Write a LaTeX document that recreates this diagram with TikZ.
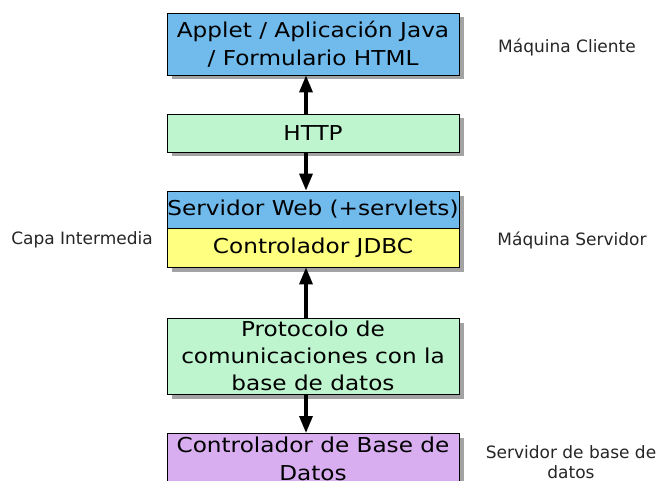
\documentclass[tikz,border=0pt]{standalone}
\usepackage{fontspec}
\setmainfont{DejaVu Sans}
\newfontfamily\boxfont[FakeStretch=1.13]{DejaVu Sans}
\usetikzlibrary{arrows.meta,shadows}
\definecolor{cblue}{RGB}{112,186,236}
\definecolor{cgreen}{RGB}{190,244,206}
\definecolor{cyellow}{RGB}{255,255,128}
\definecolor{cpurple}{RGB}{216,174,240}
\tikzset{
  box/.style={draw=black, line width=0.8pt, minimum width=292pt, inner sep=0pt, align=center,
    font=\boxfont\fontsize{20.5}{28}\selectfont,
    drop shadow={shadow xshift=4.5pt, shadow yshift=-4.5pt, fill=black!40, opacity=0.9}},
  side/.style={font=\fontsize{17}{20}\selectfont, text=black!85, align=center},
  arr/.style={line width=3.3pt, -{Triangle[width=13pt,length=17pt]}}
}
\begin{document}
\begin{tikzpicture}[x=1pt,y=-1pt]
\useasboundingbox (0,0) rectangle (658,481);
\clip (0,0) rectangle (658,481);
\fill[white] (0,0) rectangle (658,481);
\node[box, fill=cblue, minimum height=62pt] (app) at (313,44) {Applet / Aplicación Java\\/ Formulario HTML};
\node[box, fill=cgreen, minimum height=38pt] (http) at (313,133) {HTTP};
\node[box, fill=cblue, minimum height=37pt] (web) at (313,209.5) {Servidor Web (+servlets)};
\node[box, fill=cyellow, minimum height=39pt] (jdbc) at (313,247.5) {Controlador JDBC};
\node[box, fill=cgreen, minimum height=76pt, font=\boxfont\fontsize{20.5}{27}\selectfont] (proto) at (313,356) {Protocolo de\\comunicaciones con la\\base de datos};
\node[box, fill=cpurple, minimum height=50pt, anchor=north] (db) at (313,433) {Controlador de Base de\\Datos};
\draw[arr] ([xshift=-7pt]http.north) -- ([xshift=-7pt]app.south);
\draw[arr] ([xshift=-7pt]http.south) -- ([xshift=-7pt]web.north);
\draw[arr] ([xshift=-7pt]proto.north) -- ([xshift=-7pt]jdbc.south);
\draw[arr] ([xshift=-7pt]proto.south) -- ([xshift=-7pt]db.north);
\node[side] (lc) at (567,47) {Máquina Cliente};
\node[side] (li) at (82,240) {Capa Intermedia};
\node[side] (ls) at (572,240) {Máquina Servidor};
\node[side] (ld) at (571,462) {Servidor de base de\\datos};
\end{tikzpicture}
\end{document}
